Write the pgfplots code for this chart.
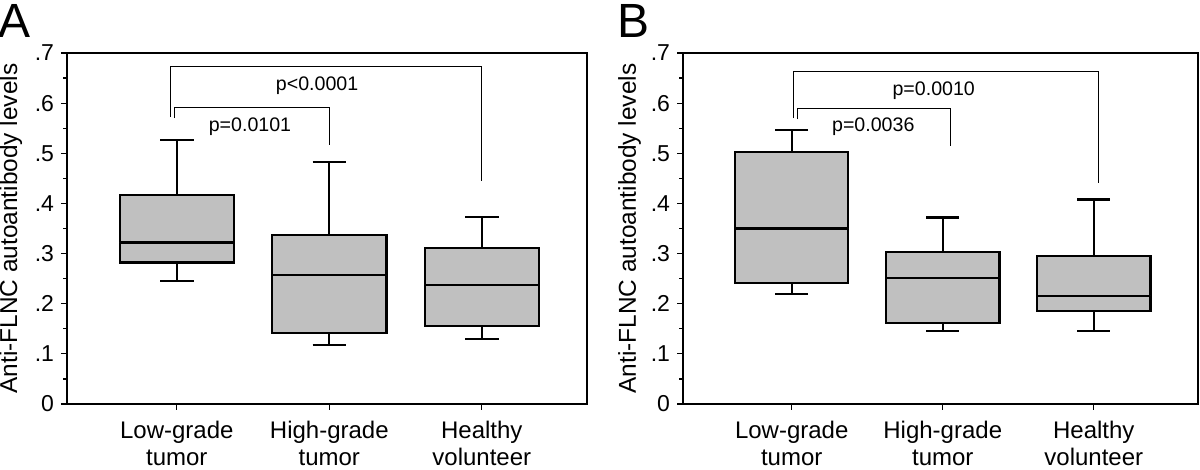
\documentclass[border=0pt]{standalone}
\usepackage{pgfplots}
\pgfplotsset{compat=1.18}
\usepgfplotslibrary{statistics}
\usepackage{fontspec}
\setmainfont{Liberation Sans}
\definecolor{boxgray}{RGB}{192,192,192}
\newcommand{\labfont}{\fontsize{12}{13.6}\selectfont}
\newcommand{\ylabfont}{\fontsize{12.2}{14}\selectfont}
\newcommand{\tickfont}{\fontsize{11.5}{12}\selectfont}
\newcommand{\pfont}{\fontsize{9.8}{11}\selectfont}
\tikzset{letter/.style={font=\fontsize{24}{24}\selectfont, anchor=base, inner sep=0pt}}
\pgfplotsset{
  panel/.style={
    scale only axis, height=175.5pt,
    xmin=0.28, xmax=3.69, ymin=0, ymax=0.7,
    xtick={1,2,3},
    xticklabels={Low-grade\\tumor, High-grade\\tumor, Healthy\\volunteer},
    xticklabel style={align=center, font=\labfont, yshift=-2pt},
    ytick={0,0.1,0.2,0.3,0.4,0.5,0.6,0.7},
    yticklabels={0,.1,.2,.3,.4,.5,.6,.7},
    yticklabel style={font=\tickfont},
    minor y tick num=1,
    tick align=outside, tick pos=left,
    major tick length=3pt, minor tick length=2pt,
    tick style={black, line width=0.6pt},
    axis line style={line width=0.8pt},
    /pgf/number format/assume math mode=true,
    ylabel={Anti-FLNC autoantibody levels},
    clip=false,
    boxplot/draw direction=y,
  },
  bx/.style={draw=black, fill=boxgray, line width=1.1pt, solid, line join=miter},
  br/.style={black, line width=0.5pt, no marks},
}

\begin{document}
\begin{tikzpicture}
\path[use as bounding box] (-33.5pt,-33pt) rectangle (566.5pt,202pt);

% panel A
\begin{axis}[panel, width=260pt,
  ylabel style={at={(axis description cs:-0.108,0.5)}, anchor=center, font=\ylabfont}]
\addplot[bx, boxplot prepared={lower whisker=0.2455, lower quartile=0.282, median=0.322,
  upper quartile=0.417, upper whisker=0.526, draw position=1, box extend=0.75, whisker extend=0.22}]
  coordinates {};
\addplot[bx, boxplot prepared={lower whisker=0.118, lower quartile=0.141, median=0.257,
  upper quartile=0.337, upper whisker=0.482, draw position=2, box extend=0.75, whisker extend=0.22}]
  coordinates {};
\addplot[bx, boxplot prepared={lower whisker=0.129, lower quartile=0.155, median=0.238,
  upper quartile=0.311, upper whisker=0.373, draw position=3, box extend=0.75, whisker extend=0.22}]
  coordinates {};
\addplot[br] coordinates {(0.96,0.572) (0.96,0.673) (3.0,0.673) (3.0,0.445)};
\addplot[br] coordinates {(0.985,0.57) (0.985,0.591) (2.0,0.591) (2.0,0.516)};
\node[font=\pfont] at (axis cs:1.92,0.635) {p<0.0001};
\node[font=\pfont] at (axis cs:1.48,0.553) {p=0.0101};
\node[letter] at (axis description cs:-0.1,1.043) {A};
\end{axis}

% panel B
\begin{axis}[panel, width=257.5pt, xshift=308pt,
  ylabel style={at={(axis description cs:-0.104,0.5)}, anchor=center, font=\ylabfont}]
\addplot[bx, boxplot prepared={lower whisker=0.219, lower quartile=0.241, median=0.350,
  upper quartile=0.502, upper whisker=0.546, draw position=1, box extend=0.75, whisker extend=0.22}]
  coordinates {};
\addplot[bx, boxplot prepared={lower whisker=0.146, lower quartile=0.161, median=0.252,
  upper quartile=0.303, upper whisker=0.372, draw position=2, box extend=0.75, whisker extend=0.22}]
  coordinates {};
\addplot[bx, boxplot prepared={lower whisker=0.146, lower quartile=0.186, median=0.216,
  upper quartile=0.295, upper whisker=0.408, draw position=3, box extend=0.75, whisker extend=0.22}]
  coordinates {};
\addplot[br] coordinates {(1.01,0.57) (1.01,0.664) (3.03,0.664) (3.03,0.44)};
\addplot[br] coordinates {(1.04,0.568) (1.04,0.589) (2.05,0.589) (2.05,0.514)};
\node[font=\pfont] at (axis cs:1.94,0.625) {p=0.0010};
\node[font=\pfont] at (axis cs:1.54,0.554) {p=0.0036};
\node[letter] at (axis description cs:-0.097,1.043) {B};
\end{axis}
\end{tikzpicture}
\end{document}
